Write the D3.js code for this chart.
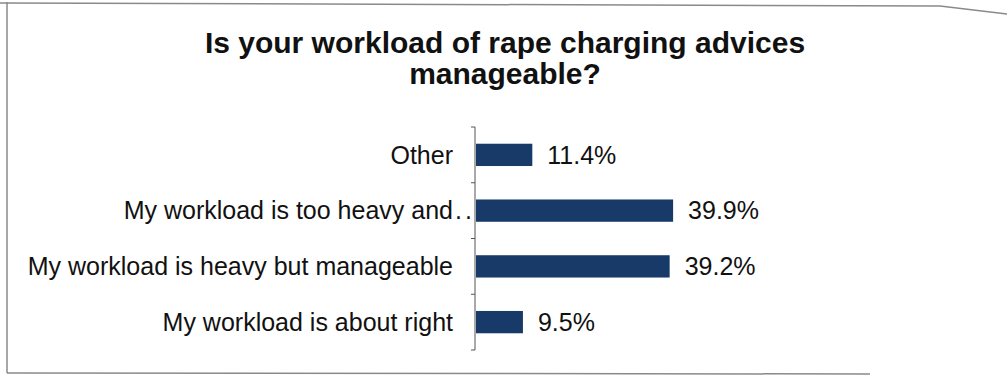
<!DOCTYPE html>
<html>
<head>
<meta charset="utf-8">
<script src="https://cdn.jsdelivr.net/npm/d3@7"></script>
<style>
  html, body { margin: 0; padding: 0; background: #fff; }
  svg { display: block; }
  text { font-family: "Liberation Sans", Arial, Helvetica, sans-serif; fill: #111; }
</style>
</head>
<body>
<svg id="chart" width="1007" height="378"></svg>
<script>
// Survey answers, top to bottom as shown
const categories = [
  "Other",
  "My workload is too heavy and..",
  "My workload is heavy but manageable",
  "My workload is about right"
];
const percentages = [11.4, 39.9, 39.2, 9.5];
const titleLines = ["Is your workload of rape charging advices", "manageable?"];

const svg = d3.select("#chart");

// Frame around the chart
const frame = svg.append("g")
  .attr("fill", "none")
  .attr("stroke", "#8a8a8a")
  .attr("stroke-width", 1.5);
frame.append("path").attr("d", d3.line()([[0, 3], [940, 6], [1007, 14]]));
frame.append("path").attr("d", d3.line()([[7, 2], [7, 373]]));
frame.append("path").attr("d", d3.line()([[7, 373], [870, 374]]));

// Title
svg.append("g").selectAll("text")
  .data(titleLines)
  .join("text")
  .attr("x", 505)
  .attr("y", (d, i) => 53 + i * 31)
  .attr("text-anchor", "middle")
  .attr("font-size", 30)
  .attr("font-weight", "bold")
  .text(d => d);

// Scales
const axisX = 475;
const x = d3.scaleLinear().domain([0, 50]).range([axisX + 1, axisX + 1 + 247]);
const y = d3.scaleBand()
  .domain(categories)
  .range([127, 350])
  .paddingInner(0.6)
  .paddingOuter(0.3);

// Category axis with outward ticks at band boundaries
const axisG = svg.append("g").attr("transform", `translate(${axisX},0)`);
axisG.append("line")
  .attr("y1", y.range()[0]).attr("y2", y.range()[1])
  .attr("stroke", "#555").attr("stroke-width", 1);
const boundaries = d3.range(categories.length + 1).map(i => y.range()[0] + i * y.step());
axisG.selectAll(".tick")
  .data(boundaries)
  .join("line")
  .attr("class", "tick")
  .attr("x1", -4).attr("x2", 0)
  .attr("y1", d => d).attr("y2", d => d)
  .attr("stroke", "#555");

// Category labels
svg.append("g").selectAll("text")
  .data(categories)
  .join("text")
  .attr("font-size", 25)
  .attr("y", d => y(d) + y.bandwidth() / 2)
  .attr("dy", "0.35em")
  .each(function (d) {
    const t = d3.select(this);
    const trunc = d.endsWith("..");
    const main = trunc ? d.slice(0, -2) : d;
    t.append("tspan").text(main);
    if (trunc) t.append("tspan").attr("dx", 2).attr("letter-spacing", 3).text("..");
    const w = t.select("tspan").node().getComputedTextLength();
    t.attr("x", axisX - 22 - w);
  });

// Bars
svg.append("g").selectAll("rect")
  .data(percentages)
  .join("rect")
  .attr("x", x(0))
  .attr("y", (d, i) => y(categories[i]))
  .attr("width", d => x(d) - x(0))
  .attr("height", y.bandwidth())
  .attr("fill", "#183a69");

// Value labels
svg.append("g").selectAll("text")
  .data(percentages)
  .join("text")
  .attr("font-size", 25)
  .attr("x", d => x(d) + 15)
  .attr("y", (d, i) => y(categories[i]) + y.bandwidth() / 2)
  .attr("dy", "0.35em")
  .text(d => d.toFixed(1) + "%");
</script>
</body>
</html>
